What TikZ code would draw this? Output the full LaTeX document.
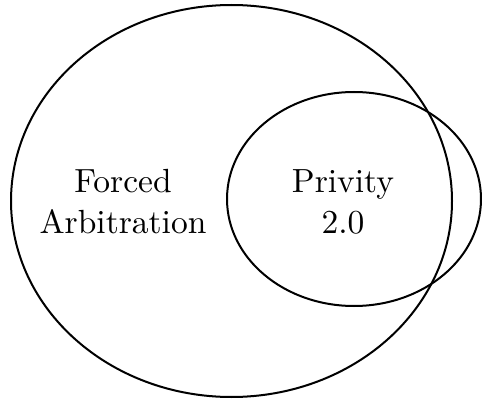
\documentclass[tikz,border=0pt]{standalone}
\usetikzlibrary{shapes.geometric}
\newcommand{\vennlabel}[1]{\scalebox{3.35}{\begin{tabular}{@{}c@{}}#1\end{tabular}}}
\begin{document}
\begin{tikzpicture}[
    x=1pt, y=-1pt,
    ellip/.style={
        draw, ellipse,
        line width=2pt,
        inner sep=0pt
    },
    lbl/.style={
        inner sep=0pt,
        font=\fontsize{10}{12}\selectfont
    }
]
\useasboundingbox (0,0) rectangle (482,401);
\node[ellip, minimum width=441pt, minimum height=392pt] (forced) at (231.5,201) {};
\node[ellip, minimum width=254pt, minimum height=214pt] (privity) at (354,199) {};
\node[lbl] (forcedtext) at (123,205) {\vennlabel{Forced \\ Arbitration}};
\node[lbl] (privitytext) at (343,205) {\vennlabel{Privity \\ 2.0}};
\end{tikzpicture}
\end{document}
